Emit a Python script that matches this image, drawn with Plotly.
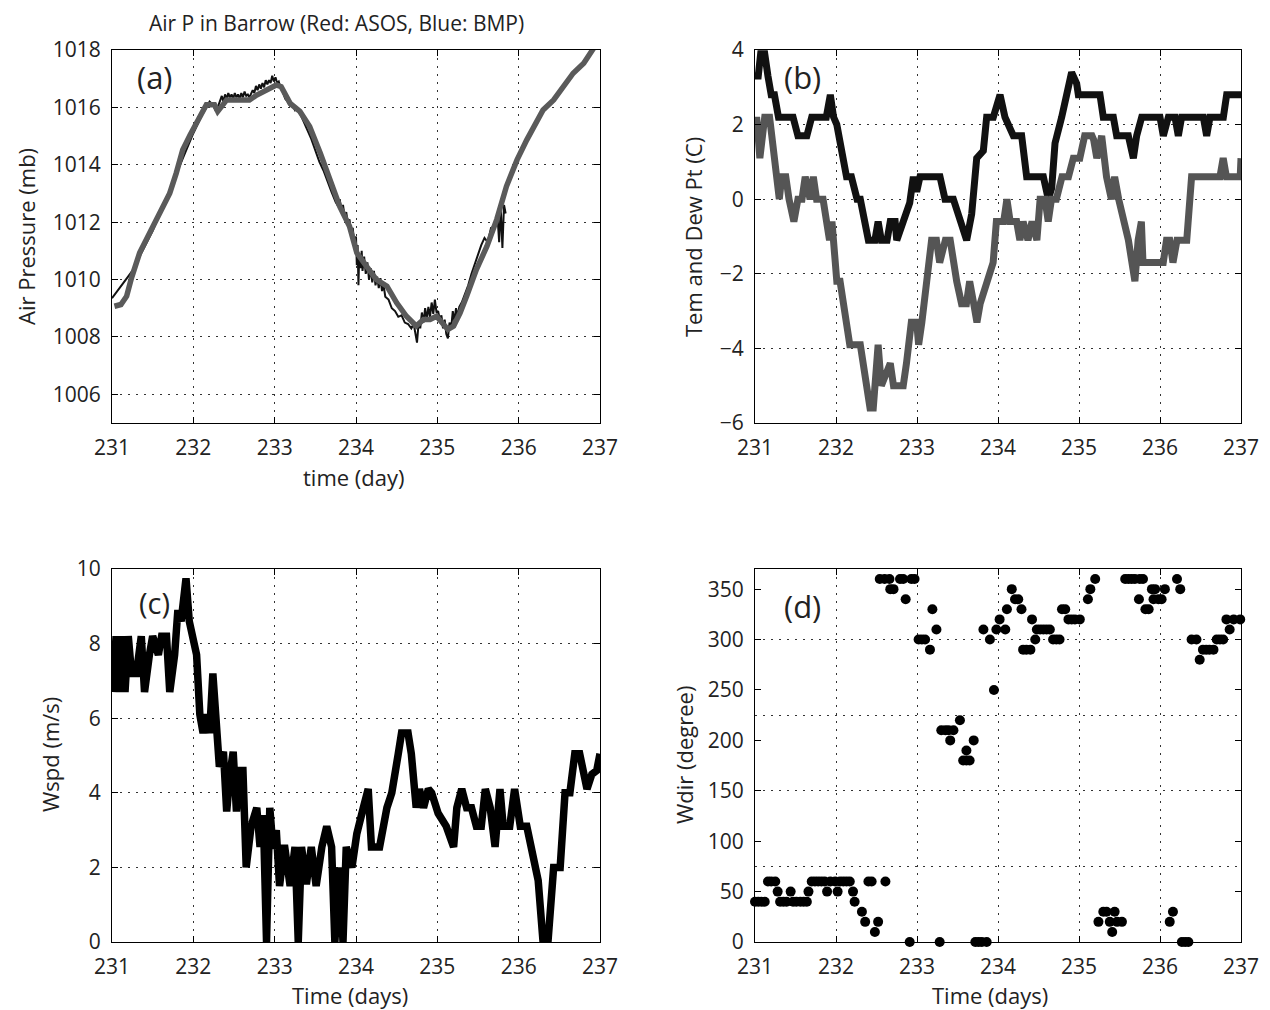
import plotly.graph_objects as go

# ---------------- DATA ----------------
day_ticks = [231, 232, 233, 234, 235, 236, 237]

# (a) Air pressure: ASOS (gray thick) and BMP (black thin, noisy)
asos_day = [231.03, 231.11, 231.18, 231.24, 231.34, 231.46, 231.59, 231.71, 231.79, 231.87,
            231.96, 232.08, 232.16, 232.26, 232.30, 232.41, 232.57, 232.69, 232.78, 232.90,
            233.02, 233.08, 233.19, 233.31, 233.43, 233.56, 233.68, 233.80, 233.92, 234.01,
            234.13, 234.25, 234.38, 234.50, 234.62, 234.74, 234.83, 234.91, 234.99, 235.07,
            235.13, 235.20, 235.28, 235.36, 235.48, 235.61, 235.73, 235.85, 235.98, 236.10,
            236.22, 236.30, 236.43, 236.55, 236.67, 236.80, 236.92, 237.00]
asos_p = [1009.07, 1009.13, 1009.42, 1010.06, 1010.93, 1011.62, 1012.32, 1013.01, 1013.71, 1014.52,
          1015.04, 1015.68, 1016.09, 1016.09, 1015.86, 1016.26, 1016.26, 1016.26, 1016.43, 1016.61,
          1016.78, 1016.72, 1016.14, 1015.86, 1015.33, 1014.41, 1013.48, 1012.55, 1011.86, 1010.93,
          1010.46, 1010.00, 1009.77, 1009.19, 1008.72, 1008.38, 1008.61, 1008.61, 1008.72, 1008.49,
          1008.26, 1008.38, 1008.84, 1009.42, 1010.35, 1011.16, 1012.09, 1013.25, 1014.17, 1014.87,
          1015.45, 1015.91, 1016.26, 1016.72, 1017.19, 1017.54, 1018.12, 1018.40]

bmp_day = [231.00, 231.25, 231.50, 231.75, 232.00, 232.10, 232.20, 232.24, 232.26, 232.28,
           232.30, 232.33, 232.35, 232.37, 232.39, 232.41, 232.43, 232.45, 232.47, 232.49,
           232.51, 232.53, 232.55, 232.57, 232.59, 232.61, 232.63, 232.65, 232.67, 232.69,
           232.71, 232.73, 232.75, 232.77, 232.79, 232.81, 232.83, 232.85, 232.87, 232.89,
           232.91, 232.93, 232.95, 232.97, 232.99, 233.01, 233.03, 233.05, 233.07, 233.10,
           233.13, 233.16, 233.19, 233.22, 233.25, 233.28, 233.31, 233.35, 233.40, 233.45,
           233.50, 233.55, 233.60, 233.65, 233.70, 233.75, 233.78, 233.80, 233.82, 233.84,
           233.86, 233.88, 233.90, 233.92, 233.94, 233.96, 233.98, 234.00, 234.01, 234.02,
           234.03, 234.04, 234.06, 234.07, 234.08, 234.10, 234.12, 234.14, 234.16, 234.18,
           234.20, 234.22, 234.24, 234.26, 234.28, 234.30, 234.32, 234.34, 234.36, 234.40,
           234.44, 234.48, 234.52, 234.56, 234.60, 234.64, 234.68, 234.71, 234.73, 234.75,
           234.77, 234.79, 234.81, 234.83, 234.85, 234.87, 234.89, 234.91, 234.93, 234.95,
           234.97, 234.99, 235.01, 235.03, 235.05, 235.07, 235.09, 235.11, 235.13, 235.15,
           235.17, 235.19, 235.21, 235.23, 235.25, 235.27, 235.30, 235.34, 235.38, 235.42,
           235.46, 235.50, 235.54, 235.58, 235.62, 235.66, 235.70, 235.74, 235.76, 235.78,
           235.80, 235.82, 235.84]
bmp_p = [1009.35, 1010.30, 1011.70, 1013.40, 1015.10, 1015.70, 1016.20, 1016.10, 1016.00, 1015.85,
         1016.00, 1016.25, 1016.40, 1016.20, 1016.45, 1016.30, 1016.50, 1016.35, 1016.45, 1016.30,
         1016.50, 1016.35, 1016.45, 1016.30, 1016.50, 1016.35, 1016.55, 1016.40, 1016.45, 1016.35,
         1016.50, 1016.60, 1016.50, 1016.75, 1016.60, 1016.80, 1016.65, 1016.85, 1016.70, 1016.95,
         1016.80, 1016.95, 1016.85, 1017.10, 1016.90, 1017.05, 1016.85, 1016.90, 1016.70, 1016.55,
         1016.30, 1016.20, 1016.05, 1016.10, 1015.90, 1015.95, 1015.80, 1015.55, 1015.25, 1014.90,
         1014.50, 1014.10, 1013.80, 1013.40, 1013.05, 1012.70, 1012.55, 1012.80, 1012.40, 1012.60,
         1012.20, 1012.35, 1011.95, 1012.10, 1011.60, 1011.80, 1011.20, 1011.50, 1010.50, 1011.20,
         1009.80, 1010.90, 1010.40, 1011.00, 1010.30, 1010.80, 1010.20, 1010.60, 1010.00, 1010.40,
         1009.90, 1010.30, 1009.80, 1010.10, 1009.70, 1010.05, 1009.60, 1009.80, 1009.40, 1009.30,
         1009.00, 1008.90, 1008.70, 1008.75, 1008.50, 1008.45, 1008.30, 1008.45, 1008.10, 1007.80,
         1008.50, 1008.30, 1008.85, 1008.50, 1009.00, 1008.60, 1009.05, 1008.70, 1009.20, 1008.80,
         1009.30, 1008.85, 1008.90, 1008.60, 1008.75, 1008.30, 1008.60, 1008.10, 1007.95, 1008.50,
         1008.30, 1008.90, 1008.55, 1009.00, 1008.70, 1009.05, 1009.20, 1009.50, 1009.80, 1010.20,
         1010.55, 1010.90, 1011.20, 1011.45, 1011.30, 1011.80, 1011.85, 1012.20, 1011.30, 1012.50,
         1011.10, 1012.60, 1012.30]
p_ticks = [1006, 1008, 1010, 1012, 1014, 1016, 1018]

# (b) Temperature (black) and dew point (gray)
temp_day = [231.00, 231.04, 231.07, 231.12, 231.16, 231.20, 231.24, 231.29, 231.47, 231.53,
            231.64, 231.70, 231.88, 231.93, 231.97, 232.01, 232.13, 232.19, 232.26, 232.30,
            232.40, 232.48, 232.52, 232.56, 232.63, 232.67, 232.73, 232.75, 232.91, 232.955,
            232.996, 233.037, 233.284, 233.346, 233.449, 233.51, 233.613, 233.675, 233.737, 233.819,
            233.86, 233.942, 234.025, 234.086, 234.189, 234.292, 234.354, 234.56, 234.621, 234.663,
            234.704, 234.786, 234.848, 234.909, 234.971, 234.992, 235.259, 235.30, 235.424, 235.465,
            235.609, 235.671, 235.712, 235.774, 236.00, 236.041, 236.103, 236.185, 236.226, 236.267,
            236.535, 236.576, 236.617, 236.782, 236.823, 237.00]
temp_c = [3.3, 3.3, 3.9, 3.9, 3.3, 2.8, 2.8, 2.2, 2.2, 1.7,
          1.7, 2.2, 2.2, 2.8, 2.2, 2.0, 0.6, 0.6, 0.0, 0.0,
          -1.1, -1.1, -0.6, -1.1, -1.1, -0.6, -0.6, -1.1, -0.1, 0.6,
          0.2, 0.6, 0.6, 0.0, 0.0, -0.4, -1.1, -0.4, 1.1, 1.3,
          2.2, 2.2, 2.8, 2.2, 1.7, 1.7, 0.6, 0.6, 0.0, 0.3,
          1.5, 2.2, 2.8, 3.4, 3.1, 2.8, 2.8, 2.2, 2.2, 1.7,
          1.7, 1.1, 1.7, 2.2, 2.2, 1.7, 2.2, 2.2, 1.7, 2.2,
          2.2, 1.7, 2.2, 2.2, 2.8, 2.8]

dew_day = [231.00, 231.02, 231.06, 231.12, 231.18, 231.25, 231.30, 231.33, 231.38, 231.42,
           231.48, 231.53, 231.58, 231.62, 231.68, 231.72, 231.76, 231.84, 231.88, 231.92,
           231.95, 231.97, 232.01, 232.05, 232.17, 232.30, 232.36, 232.42, 232.46, 232.52,
           232.56, 232.67, 232.71, 232.83, 232.87, 232.93, 232.996, 233.02, 233.06, 233.18,
           233.24, 233.28, 233.35, 233.41, 233.49, 233.55, 233.61, 233.65, 233.70, 233.74,
           233.78, 233.86, 233.94, 233.98, 234.07, 234.11, 234.15, 234.23, 234.27, 234.31,
           234.37, 234.42, 234.48, 234.52, 234.58, 234.62, 234.66, 234.72, 234.79, 234.87,
           234.93, 235.01, 235.07, 235.16, 235.18, 235.22, 235.28, 235.34, 235.40, 235.44,
           235.49, 235.61, 235.69, 235.73, 235.77, 235.79, 236.04, 236.08, 236.12, 236.16,
           236.21, 236.33, 236.39, 236.74, 236.78, 236.82, 236.99, 237.00]
dew_c = [1.7, 2.2, 1.1, 2.2, 2.2, 1.1, 0.0, 0.6, 0.6, 0.0,
         -0.6, 0.0, 0.0, 0.6, 0.0, 0.6, 0.0, 0.0, -0.6, -1.1,
         -0.6, -1.1, -2.2, -2.2, -3.9, -3.9, -4.7, -5.6, -5.6, -3.9,
         -5.0, -4.4, -5.0, -5.0, -4.4, -3.3, -3.3, -3.9, -3.3, -1.1,
         -1.1, -1.7, -1.1, -1.1, -2.2, -2.8, -2.8, -2.2, -2.8, -3.3,
         -2.8, -2.2, -1.7, -0.6, -0.6, 0.0, -0.6, -0.6, -1.1, -0.6,
         -1.1, -0.6, -1.1, 0.0, 0.0, -0.6, 0.0, 0.0, 0.6, 0.6,
         1.1, 1.1, 1.7, 1.7, 1.6, 1.1, 1.7, 0.6, 0.0, 0.6,
         0.0, -1.1, -2.2, -1.1, -0.6, -1.7, -1.7, -1.1, -1.1, -1.7,
         -1.1, -1.1, 0.6, 0.6, 1.1, 0.6, 0.6, 1.1]
t_ticks = [-6, -4, -2, 0, 2, 4]
t_ticktext = ["\u22126", "\u22124", "\u22122", "0", "2", "4"]

# (c) Wind speed
wspd_day = [231.01, 231.05, 231.09, 231.12, 231.16, 231.20, 231.24, 231.30, 231.36, 231.40,
            231.46, 231.50, 231.57, 231.61, 231.67, 231.71, 231.77, 231.81, 231.85, 231.91,
            231.95, 232.00, 232.04, 232.08, 232.12, 232.16, 232.20, 232.24, 232.28, 232.32,
            232.37, 232.41, 232.45, 232.49, 232.53, 232.57, 232.61, 232.65, 232.71, 232.78,
            232.82, 232.86, 232.90, 232.94, 232.98, 233.02, 233.06, 233.12, 233.19, 233.25,
            233.29, 233.33, 233.39, 233.45, 233.51, 233.58, 233.64, 233.70, 233.74, 233.80,
            233.84, 233.88, 233.95, 234.01, 234.09, 234.15, 234.19, 234.29, 234.38, 234.44,
            234.52, 234.56, 234.64, 234.68, 234.74, 234.78, 234.83, 234.89, 234.93, 235.01,
            235.11, 235.20, 235.24, 235.30, 235.36, 235.42, 235.48, 235.54, 235.59, 235.65,
            235.71, 235.77, 235.81, 235.89, 235.95, 236.02, 236.10, 236.18, 236.24, 236.30,
            236.36, 236.43, 236.51, 236.57, 236.63, 236.69, 236.75, 236.84, 236.90, 236.96,
            237.00]
wspd = [6.7, 8.2, 6.7, 8.2, 6.7, 8.2, 7.2, 7.2, 8.2, 6.7,
        7.7, 8.2, 7.7, 8.2, 8.2, 6.7, 7.7, 8.9, 8.6, 9.75,
        8.6, 8.2, 7.7, 6.1, 5.6, 6.1, 5.6, 7.2, 5.6, 4.7,
        5.1, 3.5, 4.5, 5.1, 3.5, 4.6, 4.6, 2.0, 3.1, 3.6,
        2.55, 3.4, 0.0, 3.6, 2.5, 3.0, 1.5, 2.6, 1.5, 2.55,
        0.0, 2.55, 1.55, 2.55, 1.5, 2.55, 3.1, 2.55, 0.0, 2.0,
        0.0, 2.55, 2.0, 2.9, 3.6, 4.1, 2.55, 2.55, 3.6, 4.0,
        5.05, 5.6, 5.6, 5.05, 3.6, 4.1, 3.6, 4.1, 4.0, 3.45,
        3.1, 2.55, 3.6, 4.1, 3.6, 3.6, 3.1, 3.1, 4.1, 3.6,
        2.55, 4.1, 3.1, 3.1, 4.1, 3.1, 3.1, 2.2, 1.65, 0.0,
        0.0, 2.0, 2.0, 4.0, 4.0, 5.05, 5.05, 4.1, 4.5, 4.6,
        5.05]
wspd_ticks = [0, 2, 4, 6, 8, 10]

# (d) Wind direction
wdir_day = [231.00, 231.04, 231.08, 231.12, 231.16, 231.20, 231.25, 231.28, 231.31, 231.35,
            231.39, 231.44, 231.47, 231.51, 231.56, 231.60, 231.64, 231.66, 231.70, 231.74,
            231.78, 231.82, 231.86, 231.89, 231.93, 231.99, 232.02, 232.05, 232.09, 232.13,
            232.17, 232.21, 232.23, 232.32, 232.36, 232.40, 232.44, 232.48, 232.52, 232.61,
            232.54, 232.60, 232.66, 232.67, 232.71, 232.79, 232.83, 232.86, 232.93, 232.97,
            232.91, 233.02, 233.06, 233.10, 233.16, 233.19, 233.24, 233.28, 233.30, 233.35,
            233.39, 233.41, 233.45, 233.53, 233.57, 233.61, 233.65, 233.61, 233.70, 233.72,
            233.76, 233.80, 233.86, 233.82, 233.90, 233.95, 233.98, 234.02, 234.09, 234.11,
            234.17, 234.21, 234.25, 234.29, 234.31, 234.35, 234.40, 234.42, 234.46, 234.48,
            234.52, 234.56, 234.60, 234.64, 234.68, 234.72, 234.76, 234.79, 234.83, 234.87,
            234.91, 234.95, 235.01, 235.11, 235.14, 235.20, 235.24, 235.30, 235.34, 235.38,
            235.41, 235.44, 235.47, 235.53, 235.57, 235.61, 235.65, 235.69, 235.75, 235.79,
            235.74, 235.82, 235.86, 235.90, 235.94, 235.92, 235.98, 236.02, 236.06, 236.12,
            236.16, 236.21, 236.25, 236.27, 236.31, 236.35, 236.39, 236.45, 236.49, 236.53,
            236.57, 236.61, 236.66, 236.70, 236.74, 236.78, 236.86, 236.82, 236.91, 236.99]
wdir = [40, 40, 40, 40, 60, 60, 60, 50, 40, 40,
        40, 50, 40, 40, 40, 40, 40, 50, 60, 60,
        60, 60, 60, 50, 60, 60, 50, 60, 60, 60,
        60, 50, 40, 30, 20, 60, 60, 10, 20, 60,
        360, 360, 360, 350, 350, 360, 360, 340, 360, 360,
        0, 300, 300, 300, 290, 330, 310, 0, 210, 210,
        210, 200, 210, 220, 180, 180, 180, 190, 200, 0,
        0, 0, 0, 310, 300, 250, 310, 320, 310, 330,
        350, 340, 340, 330, 290, 290, 290, 320, 300, 310,
        310, 310, 310, 310, 300, 300, 300, 330, 330, 320,
        320, 320, 320, 340, 350, 360, 20, 30, 30, 20,
        10, 30, 20, 20, 360, 360, 360, 360, 360, 360,
        340, 330, 330, 350, 350, 340, 340, 340, 350, 20,
        30, 360, 350, 0, 0, 0, 300, 300, 280, 290,
        290, 290, 290, 300, 300, 300, 310, 320, 320, 320]
wdir_ticks = [0, 50, 100, 150, 200, 250, 300, 350]
wdir_grid = [75, 150, 225, 300]

# ---------------- FIGURE ----------------
OFF = 8                      # page body margin of the html
W, H = 1270 - OFF, 1010 - OFF
FONT = "Open Sans"
TICKFONT = dict(family=FONT, size=21, color="#222")


def fx(px):
    return (px - OFF) / W


def fy(py):
    return 1 - (py - OFF) / H


def dom_x(a, b):
    return [fx(a), fx(b)]


def dom_y(top, bottom):
    return [fy(bottom), fy(top)]


GRID = dict(showgrid=True, gridcolor="#333", gridwidth=1, griddash="2px,6px")


def axis(domain, anchor, rng, tickvals, ticktext=None, grid=True):
    d = dict(domain=domain, anchor=anchor, range=rng, tickmode="array", tickvals=tickvals,
             ticks="inside", ticklen=6, tickcolor="black", mirror="allticks", showline=True,
             linecolor="black", linewidth=1, zeroline=False, tickfont=TICKFONT,
             ticklabelstandoff=6, automargin=False, fixedrange=True)
    if ticktext is not None:
        d["ticktext"] = ticktext
    if grid:
        d.update(GRID)
    else:
        d["showgrid"] = False
    return d


fig = go.Figure()

# (a)
fig.add_trace(go.Scatter(x=bmp_day, y=bmp_p, mode="lines", line=dict(color="#111", width=2),
                         xaxis="x", yaxis="y", name="BMP"))
fig.add_trace(go.Scatter(x=asos_day, y=asos_p, mode="lines", line=dict(color="#5a5a5a", width=5.5),
                         xaxis="x", yaxis="y", name="ASOS"))
# (b)
fig.add_trace(go.Scatter(x=temp_day, y=temp_c, mode="lines", line=dict(color="#111", width=7),
                         xaxis="x2", yaxis="y2", name="Tem"))
fig.add_trace(go.Scatter(x=dew_day, y=dew_c, mode="lines", line=dict(color="#555", width=7),
                         xaxis="x2", yaxis="y2", name="Dew Pt"))
# (c)
fig.add_trace(go.Scatter(x=wspd_day, y=wspd, mode="lines", line=dict(color="#000", width=7.5),
                         xaxis="x3", yaxis="y3", name="Wspd"))
# (d)
fig.add_trace(go.Scatter(x=wdir_day, y=wdir, mode="markers",
                         marker=dict(color="#000", size=10, line=dict(width=0)),
                         cliponaxis=False, xaxis="x4", yaxis="y4", name="Wdir"))

xa_l = dom_x(112, 600)
xa_r = dom_x(755, 1241)
ya_t = dom_y(50, 423)
ya_b = dom_y(569, 942)

yax4 = axis(ya_b, "x4", [0, 370], wdir_ticks, grid=False)
yax4["minor"] = dict(tickmode="array", tickvals=wdir_grid, ticks="", showgrid=True,
                     gridcolor="#333", gridwidth=1, griddash="2px,6px")

fig.update_layout(
    width=W, height=H, margin=dict(l=0, r=0, t=0, b=0),
    template="none", paper_bgcolor="white", plot_bgcolor="white", showlegend=False,
    font=dict(family=FONT, color="#222"),
    xaxis=axis(xa_l, "y", [231, 237], day_ticks),
    yaxis=axis(ya_t, "x", [1005, 1018], p_ticks),
    xaxis2=axis(xa_r, "y2", [231, 237], day_ticks),
    yaxis2=axis(ya_t, "x2", [-6, 4], t_ticks, t_ticktext),
    xaxis3=axis(xa_l, "y3", [231, 237], day_ticks),
    yaxis3=axis(ya_b, "x3", [0, 10], wspd_ticks),
    xaxis4=axis(xa_r, "y4", [231, 237], day_ticks),
    yaxis4=yax4,
)


def ann(text, x, y, size=21, angle=0, yanchor="middle"):
    fig.add_annotation(text=text, x=fx(x), y=fy(y), xref="paper", yref="paper",
                       showarrow=False, textangle=angle, xanchor="center", yanchor=yanchor,
                       borderpad=0, font=dict(family=FONT, size=size, color="#222"))


ann("Air P in Barrow (Red: ASOS, Blue: BMP)", 337, 8, size=21, yanchor="top")
ann("time (day)", 354, 477, size=22)
ann("Time (days)", 350, 995, size=22)
ann("Time (days)", 990, 995, size=22)
ann("Air Pressure (mb)", 26, 237, size=22, angle=-90)
ann("Tem and Dew Pt (C)", 693, 237, size=22, angle=-90)
ann("Wspd (m/s)", 50, 755, size=22, angle=-90)
ann("Wdir (degree)", 684, 755, size=22, angle=-90)
ann("(a)", 155, 77, size=31)
ann("(b)", 802, 77, size=31)
ann("(c)", 154, 602, size=29)
ann("(d)", 802, 606, size=31)

fig.write_html("out.html")
